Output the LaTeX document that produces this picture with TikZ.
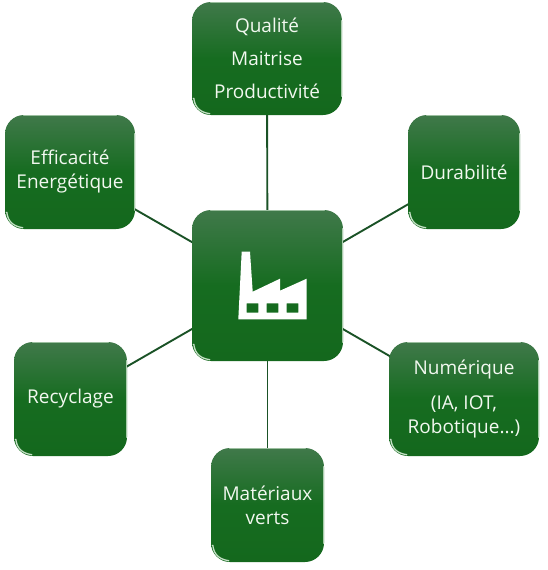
\documentclass[tikz,border=0pt]{standalone}
\usepackage{fontspec}
\setmainfont{Open Sans}
\usetikzlibrary{backgrounds}
\definecolor{boxtop}{HTML}{40794A}
\definecolor{boxmid}{HTML}{166C20}
\definecolor{boxbot}{HTML}{14681D}
\definecolor{linegreen}{HTML}{1A5226}
\definecolor{txt}{HTML}{F2F8F0}
\definecolor{glow}{HTML}{D8EED8}
\tikzset{
  greenbox/.style={rectangle,rounded corners=19pt,top color=boxtop,bottom color=boxbot,middle color=boxmid,
    text=txt,align=center,inner sep=0pt,font=\fontsize{19}{24}\selectfont},
  link/.style={draw=linegreen,line width=1.9pt},
  gloss/.style={draw=glow,line width=1.3pt,line cap=round}
}
\begin{document}
\begin{tikzpicture}[x=1pt,y=-1pt]
\useasboundingbox (0,0) rectangle (548,570);
\node[greenbox,minimum width=151pt,minimum height=151pt] (hub) at (267.5,285.5) {};
\node[greenbox,minimum width=150pt,minimum height=113pt] (qual) at (267,58.5) {Qualité\\[9pt]Maitrise\\[9pt]Productivité};
\node[greenbox,minimum width=112pt,minimum height=114pt] (dura) at (464,172) {Durabilité};
\node[greenbox,minimum width=150pt,minimum height=114pt] (num) at (464,399) {Numérique\\[11pt](IA, IOT,\\Robotique...)};
\node[greenbox,minimum width=113pt,minimum height=114pt] (mat) at (267.5,505) {Matériaux\\verts};
\node[greenbox,minimum width=113pt,minimum height=114pt] (rec) at (70.5,399) {Recyclage};
\node[greenbox,minimum width=130pt,minimum height=114pt] (eff) at (70,172) {Efficacité\\Energétique};
\begin{scope}[on background layer]
  \foreach \n in {qual,dura,num,mat,rec,eff}
    \draw[link] (hub.center) -- (\n.center);
\end{scope}
\foreach \n in {hub,qual,dura,num,mat,rec,eff}{
  \draw[gloss,opacity=.6] ([xshift=19pt,yshift=-.8pt]\n.north west) -- ([xshift=-19pt,yshift=-.8pt]\n.north east);
  \draw[gloss,opacity=.9] ([xshift=2pt,yshift=17pt]\n.south west) .. controls ([xshift=3pt,yshift=8pt]\n.south west) and ([xshift=8pt,yshift=3pt]\n.south west) .. ([xshift=18pt,yshift=1.5pt]\n.south west);
  \draw[gloss,opacity=.75] ([xshift=-.7pt,yshift=-19pt]\n.north east) -- ([xshift=-.7pt,yshift=19pt]\n.south east);
}
\fill[white,even odd rule]
  (238.3,319.3) -- (241.7,251.7) -- (250,251.7) -- (252.7,291.7) -- (280,278.7) -- (280,290.7) -- (306.7,278.7) -- (306.7,319.3) -- cycle
  (246.7,303.3) rectangle (258.3,312.7)
  (266.7,303.3) rectangle (278.3,312.7)
  (286.7,303.3) rectangle (298.3,312.7);
\end{tikzpicture}
\end{document}
